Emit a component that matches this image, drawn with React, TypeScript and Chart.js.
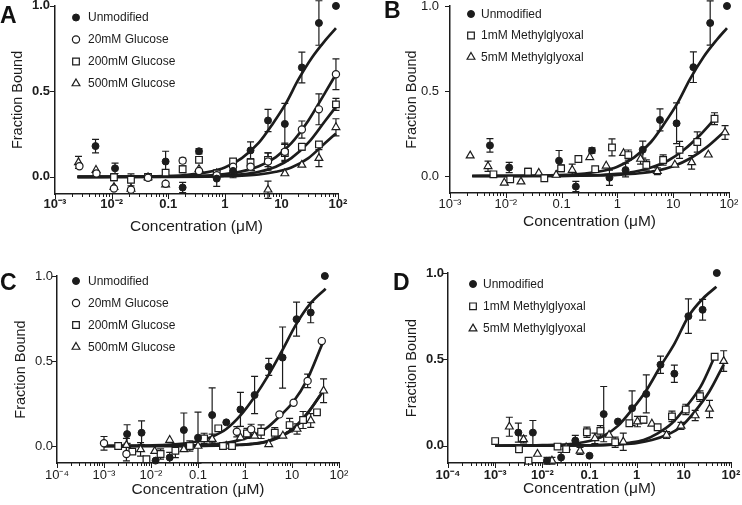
import React, { useEffect, useRef } from 'react';
import { Chart, registerables } from 'chart.js';
Chart.register(...registerables);

const FONT = 'Arial, "Liberation Sans", Helvetica, sans-serif';

// ---------- tick labels ----------
const xDecadesAB = [0.001, 0.01, 0.1, 1, 10, 100];
const xTickLabelsAB = ['10\u207B\u00B3', '10\u207B\u00B2', '0.1', '1', '10', '10\u00B2'];
const xDecadesCD = [0.0001, 0.001, 0.01, 0.1, 1, 10, 100];
const xTickLabelsCD = ['10\u207B\u2074', '10\u207B\u00B3', '10\u207B\u00B2', '0.1', '1', '10', '10\u00B2'];
const yTickValues = [0, 0.5, 1];
const yTickLabels = ['0.0', '0.5', '1.0'];

// ---------- legends ----------
const legendGlucose = ['Unmodified', '20mM Glucose', '200mM Glucose', '500mM Glucose'];
const legendMG = ['Unmodified', '1mM Methylglyoxal', '5mM Methylglyoxal'];

// ---------- Panel A / B : unmodified ----------
const abUnmodX = [0.0052, 0.0115, 0.09, 0.18, 0.35, 0.72, 1.4, 2.85, 5.8, 11.5, 23, 46, 92];
const abUnmodY = [0.18, 0.05, 0.09, -0.062, 0.15, -0.01, 0.035, 0.155, 0.33, 0.31, 0.64, 0.9, 1.0];
const abUnmodErr = [0.04, 0.03, 0.06, 0.03, 0.015, 0.045, 0.04, 0.05, 0.065, 0.12, 0.09, 0.13, 0];

// Panel A : glucose
const a20X = [0.0027, 0.0054, 0.011, 0.022, 0.044, 0.09, 0.18, 0.35, 0.72, 1.4, 2.85, 5.8, 11.5, 23, 46, 92];
const a20Y = [0.062, 0.02, -0.068, -0.075, -0.005, -0.04, 0.095, 0.035, 0.01, 0.06, 0.06, 0.09, 0.147, 0.277, 0.395, 0.6];
const a20Err = [0, 0, 0, 0, 0.01, 0, 0.015, 0, 0.02, 0.02, 0.02, 0.05, 0.05, 0.05, 0.09, 0.09];
const a200X = [0.011, 0.022, 0.044, 0.09, 0.18, 0.35, 0.72, 1.4, 2.85, 5.8, 11.5, 23, 46, 92];
const a200Y = [-0.002, -0.017, 0.0, 0.025, 0.045, 0.1, 0.02, 0.09, 0.085, 0.1, 0.14, 0.176, 0.19, 0.424];
const a200Err = [0.02, 0.035, 0.01, 0.01, 0.02, 0, 0.02, 0.01, 0.02, 0.04, 0.05, 0.02, 0.01, 0.035];
const a500X = [0.0026, 0.0053, 0.011, 0.022, 0.044, 0.09, 0.35, 0.72, 1.4, 2.85, 5.8, 11.5, 23, 46, 92];
const a500Y = [0.085, 0.04, -0.06, -0.07, -0.003, -0.045, 0.045, 0.02, 0.03, 0.05, -0.075, 0.02, 0.07, 0.11, 0.29];
const a500Err = [0.035, 0, 0, 0, 0, 0, 0, 0, 0, 0, 0.05, 0, 0, 0.05, 0.05];

// Panel B : methylglyoxal
const b1X = [0.006, 0.012, 0.025, 0.049, 0.098, 0.2, 0.4, 0.8, 1.57, 3.3, 6.6, 13, 27, 55];
const b1Y = [0.01, -0.02, 0.025, -0.013, 0.045, 0.1, 0.04, 0.168, 0.123, 0.065, 0.094, 0.154, 0.2, 0.337];
const b1Err = [0, 0, 0.02, 0, 0.02, 0, 0, 0.05, 0.03, 0.03, 0.03, 0.05, 0.06, 0.035];
const b5X = [0.0023, 0.0048, 0.0094, 0.0187, 0.039, 0.08, 0.155, 0.32, 0.63, 1.29, 2.6, 5.2, 10.7, 21.4, 42.6, 85];
const b5Y = [0.12, 0.057, -0.04, -0.033, 0.018, 0.006, 0.035, 0.11, 0.06, 0.134, 0.1, 0.028, 0.066, 0.08, 0.125, 0.256];
const b5Err = [0, 0.03, 0, 0, 0, 0, 0.035, 0, 0, 0, 0.03, 0.02, 0, 0.04, 0, 0.04];

// fitted curves A / B
const fitABUnmodX = [0.0025, 0.01, 0.05, 0.2, 0.5, 1, 2, 4, 7, 12, 20, 35, 60, 92];
const fitABUnmodY = [0, 0.001, 0.003, 0.011, 0.028, 0.055, 0.11, 0.2, 0.31, 0.43, 0.57, 0.7, 0.8, 0.87];
const fitAGluX = [0.0025, 0.1, 0.5, 1, 2, 4, 8, 15, 30, 60, 92];
const fitA20Y = [0, 0.002, 0.008, 0.016, 0.032, 0.062, 0.116, 0.197, 0.33, 0.496, 0.6];
const fitA200Y = [0, 0.001, 0.004, 0.008, 0.015, 0.03, 0.06, 0.11, 0.2, 0.33, 0.41];
const fitA500Y = [0, 0, 0.002, 0.004, 0.008, 0.014, 0.03, 0.055, 0.11, 0.2, 0.254];
const fitB1X = [0.0025, 0.1, 0.5, 1, 2, 4, 8, 15, 30, 55];
const fitB1Y = [0, 0.001, 0.006, 0.012, 0.025, 0.05, 0.09, 0.15, 0.24, 0.335];
const fitB5X = [0.0025, 0.1, 0.5, 1, 2.5, 5, 10, 20, 40, 85];
const fitB5Y = [0, 0.001, 0.004, 0.007, 0.016, 0.03, 0.057, 0.103, 0.17, 0.265];

// ---------- Panel C / D : unmodified ----------
const cdUnmodX = [0.0031, 0.0063, 0.0125, 0.025, 0.05, 0.1, 0.2, 0.4, 0.8, 1.6, 3.2, 6.3, 12.5, 25, 50];
const cUnmodY = [0.07, 0.078, -0.086, -0.068, 0.094, 0.049, 0.182, 0.139, 0.215, 0.3, 0.466, 0.52, 0.746, 0.785, 1.0];
const cUnmodErr = [0.055, 0.07, 0, 0.03, 0.1, 0.15, 0.16, 0, 0.1, 0.11, 0.05, 0.18, 0.1, 0.06, 0];
const dUnmodY = [0.076, 0.076, -0.087, -0.068, 0.03, -0.058, 0.183, 0.14, 0.217, 0.3, 0.469, 0.417, 0.75, 0.787, 1.0];
const dUnmodErr = [0.055, 0.07, 0.02, 0.03, 0.03, 0, 0.16, 0, 0.1, 0.11, 0.05, 0.05, 0.1, 0.06, 0];

// Panel C : glucose
const c20X = [0.001, 0.003, 0.67, 1.35, 5.4, 10.8, 21.5, 43];
const c20Y = [0.016, -0.047, 0.084, 0.098, 0.186, 0.254, 0.383, 0.617];
const c20Err = [0.04, 0.04, 0.03, 0.03, 0, 0, 0.04, 0];
const c200X = [0.002, 0.004, 0.008, 0.016, 0.033, 0.067, 0.135, 0.27, 0.34, 0.53, 1.1, 2.2, 4.3, 8.9, 17.2, 34];
const c200Y = [0.0, -0.033, -0.078, -0.047, -0.028, 0.0, 0.045, 0.104, 0.0, 0.0, 0.074, 0.084, 0.078, 0.123, 0.153, 0.198];
const c200Err = [0, 0, 0, 0.03, 0.04, 0.03, 0.03, 0, 0, 0, 0.03, 0.04, 0.03, 0.04, 0.05, 0];
const c500X = [0.003, 0.006, 0.012, 0.025, 0.05, 0.1, 0.2, 0.4, 0.8, 1.6, 3.2, 6.4, 12.8, 25, 47];
const c500Y = [0.005, -0.02, -0.03, 0.035, -0.02, 0.0, 0.04, 0.0, 0.05, 0.06, 0.01, 0.06, 0.1, 0.15, 0.325];
const c500Err = [0.04, 0.04, 0, 0, 0, 0, 0.03, 0, 0, 0, 0, 0, 0.03, 0.04, 0.07];

// Panel D : methylglyoxal
const d1X = [0.001, 0.0032, 0.0051, 0.021, 0.032, 0.088, 0.17, 0.35, 0.7, 1.4, 2.78, 5.6, 11, 22, 45];
const d1Y = [0.027, -0.02, -0.087, -0.005, -0.02, 0.078, 0.086, 0.02, 0.13, 0.15, 0.107, 0.17, 0.21, 0.287, 0.515];
const d1Err = [0, 0.02, 0, 0, 0, 0.03, 0.03, 0.03, 0, 0.02, 0, 0.03, 0.03, 0.03, 0];
const d5X = [0.002, 0.004, 0.0079, 0.016, 0.032, 0.063, 0.13, 0.26, 0.52, 1.04, 2.1, 4.3, 8.7, 17.4, 35, 70];
const d5Y = [0.11, 0.037, -0.048, -0.087, -0.01, -0.03, 0.043, 0.062, 0.023, 0.14, 0.127, 0.062, 0.115, 0.175, 0.213, 0.49];
const d5Err = [0.055, 0.02, 0, 0.02, 0, 0.02, 0.03, 0, 0.05, 0.03, 0, 0.02, 0.02, 0.03, 0.05, 0.06];

// fitted curves C / D
const fitCUnmodX = [0.001, 0.01, 0.05, 0.1, 0.2, 0.4, 0.8, 1.6, 3.2, 6, 12.5, 25, 52];
const fitCUnmodY = [0, 0.003, 0.014, 0.028, 0.055, 0.1, 0.18, 0.29, 0.42, 0.555, 0.72, 0.84, 0.925];
const fitC20X = [0.001, 0.05, 0.3, 0.66, 1.36, 2.7, 5.3, 10.7, 21, 44];
const fitC20Y = [0, 0.002, 0.014, 0.03, 0.058, 0.1, 0.172, 0.26, 0.39, 0.6];
const fitC200X = [0.001, 0.1, 0.7, 1.36, 2.7, 5.3, 10.7, 21, 40];
const fitC200Y = [0, 0.001, 0.007, 0.012, 0.025, 0.055, 0.104, 0.19, 0.3];
const fitC500X = [0.001, 0.1, 0.7, 1.36, 2.7, 5.3, 10.7, 21, 47];
const fitC500Y = [0, 0.001, 0.006, 0.011, 0.023, 0.05, 0.1, 0.19, 0.325];
const fitDUnmodX = [0.001, 0.01, 0.05, 0.1, 0.2, 0.4, 0.8, 1.6, 3.2, 6.3, 12.6, 25, 49];
const fitDUnmodY = [0, 0.003, 0.013, 0.027, 0.057, 0.115, 0.21, 0.32, 0.46, 0.59, 0.75, 0.85, 0.92];
const fitD1X = [0.001, 0.1, 0.35, 0.7, 1.4, 2.8, 5.6, 11.3, 23, 45];
const fitD1Y = [0, 0.002, 0.008, 0.017, 0.033, 0.072, 0.13, 0.227, 0.345, 0.515];
const fitD5X = [0.001, 0.1, 0.5, 1.04, 2.1, 4.3, 8.7, 17.4, 35, 70];
const fitD5Y = [0, 0.002, 0.009, 0.017, 0.033, 0.062, 0.11, 0.2, 0.315, 0.47];

// ---------- types & helpers ----------
type Mk = 'filled' | 'open' | 'square' | 'triangle';
interface Series { label: string; mk: Mk; x: number[]; y: number[]; err: number[] }
interface Fit { x: number[]; y: number[] }
interface PanelCfg {
  letter: string;
  left: number; top: number; w: number; h: number;
  area: { left: number; right: number; top: number; bottom: number };
  xmin: number; xmax: number;
  decades: number[]; decadeLabels: string[];
  bold: boolean;
  yLabelPad: number; yTitlePad: number;
  xLabelPad: number; xH: number;
  legend: { mx: number; tx: number; y0: number; dy: number };
  letterPos: { left: number; top: number };
  series: Series[];
  fits: Fit[];
}

const INK = '#1c1c1c';

function pointOpts(mk: Mk) {
  switch (mk) {
    case 'filled':
      return { pointStyle: 'circle', pointRadius: 3.5, pointBackgroundColor: INK, pointBorderColor: INK, pointBorderWidth: 1 };
    case 'open':
      return { pointStyle: 'circle', pointRadius: 3.6, pointBackgroundColor: '#fff', pointBorderColor: INK, pointBorderWidth: 1.2 };
    case 'square':
      return { pointStyle: 'rect', pointRadius: 4.7, pointBackgroundColor: '#fff', pointBorderColor: INK, pointBorderWidth: 1.2 };
    default:
      return { pointStyle: 'triangle', pointRadius: 4.5, pointBackgroundColor: '#fff', pointBorderColor: INK, pointBorderWidth: 1.2 };
  }
}

function drawMarker(ctx: CanvasRenderingContext2D, mk: Mk, x: number, y: number) {
  ctx.save();
  ctx.lineWidth = mk === 'filled' ? 1 : 1.2;
  ctx.strokeStyle = INK;
  ctx.fillStyle = mk === 'filled' ? INK : '#fff';
  ctx.beginPath();
  if (mk === 'filled' || mk === 'open') {
    ctx.arc(x, y, mk === 'filled' ? 3.5 : 3.6, 0, Math.PI * 2);
  } else if (mk === 'square') {
    const s = 4.7 * Math.SQRT1_2;
    ctx.rect(x - s, y - s, 2 * s, 2 * s);
  } else {
    const r = 4.5;
    let a = 0;
    ctx.moveTo(x + Math.sin(a) * r, y - Math.cos(a) * r);
    a += (2 * Math.PI) / 3;
    ctx.lineTo(x + Math.sin(a) * r, y - Math.cos(a) * r);
    a += (2 * Math.PI) / 3;
    ctx.lineTo(x + Math.sin(a) * r, y - Math.cos(a) * r);
    ctx.closePath();
  }
  ctx.fill();
  ctx.stroke();
  ctx.restore();
}

const errorBarPlugin = {
  id: 'errorBars',
  beforeDatasetsDraw(chart: any) {
    const { ctx } = chart;
    const ys = chart.scales.y;
    ctx.save();
    ctx.strokeStyle = INK;
    ctx.lineWidth = 1.2;
    chart.data.datasets.forEach((ds: any, i: number) => {
      if (!ds.errors) return;
      const meta = chart.getDatasetMeta(i);
      meta.data.forEach((pt: any, j: number) => {
        const e = ds.errors[j];
        if (!e) return;
        const v = ds.data[j].y;
        const yt = ys.getPixelForValue(v + e);
        const yb = ys.getPixelForValue(v - e);
        const x = pt.x;
        ctx.beginPath();
        ctx.moveTo(x, yt); ctx.lineTo(x, yb);
        ctx.moveTo(x - 3.5, yt); ctx.lineTo(x + 3.5, yt);
        ctx.moveTo(x - 3.5, yb); ctx.lineTo(x + 3.5, yb);
        ctx.stroke();
      });
    });
    ctx.restore();
  },
};

const tickPlugin = {
  id: 'axisTicks',
  afterDraw(chart: any) {
    const { ctx, chartArea } = chart;
    const xs = chart.scales.x;
    const ys = chart.scales.y;
    ctx.save();
    ctx.strokeStyle = INK;
    ctx.lineWidth = 1;
    const d0 = Math.round(Math.log10(xs.min));
    const d1 = Math.round(Math.log10(xs.max));
    ctx.beginPath();
    for (let d = d0; d <= d1; d++) {
      for (let k = 1; k <= 9; k++) {
        const v = k * Math.pow(10, d);
        if (v > xs.max * 1.0001) break;
        const px = Math.round(xs.getPixelForValue(v)) + 0.5;
        const len = k === 1 ? 5 : 3;
        ctx.moveTo(px, chartArea.bottom);
        ctx.lineTo(px, chartArea.bottom + len);
      }
    }
    yTickValues.forEach((v) => {
      const py = Math.round(ys.getPixelForValue(v)) + 0.5;
      ctx.moveTo(chartArea.left - 5, py);
      ctx.lineTo(chartArea.left, py);
    });
    ctx.stroke();
    ctx.restore();
  },
};

const legendPlugin = {
  id: 'insideLegend',
  afterDraw(chart: any, _args: any, opts: any) {
    const { ctx } = chart;
    const items = opts.items as { label: string; mk: Mk }[];
    ctx.save();
    ctx.font = `12px ${FONT}`;
    ctx.fillStyle = INK;
    ctx.textBaseline = 'middle';
    ctx.textAlign = 'left';
    items.forEach((it, i) => {
      const y = opts.y0 + i * opts.dy;
      drawMarker(ctx, it.mk, opts.mx, y);
      ctx.fillStyle = INK;
      ctx.fillText(it.label, opts.tx, y + 0.5);
    });
    ctx.restore();
  },
};

function buildConfig(p: PanelCfg): any {
  const datasets: any[] = [];
  p.series.forEach((s) => {
    datasets.push({
      type: 'scatter',
      label: s.label,
      data: s.x.map((x, i) => ({ x, y: s.y[i] })),
      errors: s.err,
      showLine: false,
      clip: false,
      ...pointOpts(s.mk),
    });
  });
  p.fits.forEach((f) => {
    datasets.push({
      type: 'line',
      data: f.x.map((x, i) => ({ x, y: f.y[i] })),
      borderColor: INK,
      borderWidth: 2.7,
      pointRadius: 0,
      fill: false,
      cubicInterpolationMode: 'monotone',
      clip: false,
    });
  });
  const yW = p.area.left;
  const tickFont = { family: FONT, size: 13, weight: p.bold ? 'bold' : 'normal' };
  return {
    type: 'scatter',
    data: { datasets },
    plugins: [errorBarPlugin, tickPlugin, legendPlugin],
    options: {
      responsive: false,
      maintainAspectRatio: false,
      animation: false,
      devicePixelRatio: 1,
      events: [],
      layout: {
        padding: {
          left: 0,
          top: p.area.top,
          right: p.w - p.area.right,
          bottom: p.h - p.area.bottom - p.xH,
        },
      },
      plugins: {
        legend: { display: false },
        tooltip: { enabled: false },
        insideLegend: {
          items: p.series.map((s) => ({ label: s.label, mk: s.mk })),
          mx: p.legend.mx, tx: p.legend.tx, y0: p.legend.y0, dy: p.legend.dy,
        },
      },
      scales: {
        x: {
          type: 'logarithmic',
          min: p.xmin,
          max: p.xmax,
          afterBuildTicks: (s: any) => { s.ticks = p.decades.map((v) => ({ value: v })); },
          afterFit: (s: any) => { s.height = p.xH; s.paddingLeft = 0; s.paddingRight = 0; },
          grid: { display: false, drawTicks: false },
          border: { display: true, color: INK, width: 1.5 },
          ticks: {
            autoSkip: false,
            maxRotation: 0,
            padding: p.xLabelPad,
            color: INK,
            font: tickFont,
            callback: (_v: any, i: number) => p.decadeLabels[i],
          },
          title: {
            display: true,
            text: 'Concentration (\u03BCM)',
            color: INK,
            font: { family: FONT, size: 15.5 },
            padding: { top: 0, bottom: 0 },
          },
        },
        y: {
          type: 'linear',
          min: -0.1,
          max: 1.0,
          afterBuildTicks: (s: any) => { s.ticks = yTickValues.map((v) => ({ value: v })); },
          afterFit: (s: any) => { s.width = yW; s.paddingTop = 0; s.paddingBottom = 0; },
          grid: { display: false, drawTicks: false },
          border: { display: true, color: INK, width: 1.5 },
          ticks: {
            padding: p.yLabelPad,
            color: INK,
            font: tickFont,
            callback: (_v: any, i: number) => yTickLabels[i],
          },
          title: {
            display: true,
            text: 'Fraction Bound',
            color: INK,
            font: { family: FONT, size: 14.5 },
            padding: { top: p.yTitlePad, bottom: 0 },
          },
        },
      },
    },
  };
}

const panels: PanelCfg[] = [
  {
    letter: 'A', left: 0, top: 0, w: 371, h: 250,
    area: { left: 55, right: 338, top: 5, bottom: 194 },
    xmin: 0.001, xmax: 100, decades: xDecadesAB, decadeLabels: xTickLabelsAB,
    bold: true, yLabelPad: 5, yTitlePad: 9, xLabelPad: 3, xH: 42,
    legend: { mx: 76, tx: 88, y0: 17.5, dy: 22 },
    letterPos: { left: 0, top: 4 },
    series: [
      { label: legendGlucose[0], mk: 'filled', x: abUnmodX, y: abUnmodY, err: abUnmodErr },
      { label: legendGlucose[1], mk: 'open', x: a20X, y: a20Y, err: a20Err },
      { label: legendGlucose[2], mk: 'square', x: a200X, y: a200Y, err: a200Err },
      { label: legendGlucose[3], mk: 'triangle', x: a500X, y: a500Y, err: a500Err },
    ],
    fits: [
      { x: fitABUnmodX, y: fitABUnmodY },
      { x: fitAGluX, y: fitA20Y },
      { x: fitAGluX, y: fitA200Y },
      { x: fitAGluX, y: fitA500Y },
    ],
  },
  {
    letter: 'B', left: 371, top: 0, w: 371, h: 250,
    area: { left: 79, right: 358, top: 6, bottom: 193 },
    xmin: 0.001, xmax: 100, decades: xDecadesAB, decadeLabels: xTickLabelsAB,
    bold: false, yLabelPad: 11, yTitlePad: 32, xLabelPad: 4, xH: 38,
    legend: { mx: 100, tx: 110, y0: 14, dy: 21.5 },
    letterPos: { left: 13, top: -1 },
    series: [
      { label: legendMG[0], mk: 'filled', x: abUnmodX, y: abUnmodY, err: abUnmodErr },
      { label: legendMG[1], mk: 'square', x: b1X, y: b1Y, err: b1Err },
      { label: legendMG[2], mk: 'triangle', x: b5X, y: b5Y, err: b5Err },
    ],
    fits: [
      { x: fitABUnmodX, y: fitABUnmodY },
      { x: fitB1X, y: fitB1Y },
      { x: fitB5X, y: fitB5Y },
    ],
  },
  {
    letter: 'C', left: 0, top: 250, w: 371, h: 255,
    area: { left: 57, right: 339, top: 26, bottom: 213 },
    xmin: 0.0001, xmax: 100, decades: xDecadesCD, decadeLabels: xTickLabelsCD,
    bold: false, yLabelPad: 4, yTitlePad: 12, xLabelPad: 5, xH: 36,
    legend: { mx: 76, tx: 88, y0: 31, dy: 22 },
    letterPos: { left: 0, top: 21 },
    series: [
      { label: legendGlucose[0], mk: 'filled', x: cdUnmodX, y: cUnmodY, err: cUnmodErr },
      { label: legendGlucose[1], mk: 'open', x: c20X, y: c20Y, err: c20Err },
      { label: legendGlucose[2], mk: 'square', x: c200X, y: c200Y, err: c200Err },
      { label: legendGlucose[3], mk: 'triangle', x: c500X, y: c500Y, err: c500Err },
    ],
    fits: [
      { x: fitCUnmodX, y: fitCUnmodY },
      { x: fitC20X, y: fitC20Y },
      { x: fitC200X, y: fitC200Y },
      { x: fitC500X, y: fitC500Y },
    ],
  },
  {
    letter: 'D', left: 371, top: 250, w: 371, h: 255,
    area: { left: 77, right: 360, top: 23, bottom: 213 },
    xmin: 0.0001, xmax: 100, decades: xDecadesCD, decadeLabels: xTickLabelsCD,
    bold: true, yLabelPad: 4, yTitlePad: 32, xLabelPad: 5, xH: 35,
    legend: { mx: 102, tx: 112, y0: 34, dy: 22.3 },
    letterPos: { left: 22, top: 21 },
    series: [
      { label: legendMG[0], mk: 'filled', x: cdUnmodX, y: dUnmodY, err: dUnmodErr },
      { label: legendMG[1], mk: 'square', x: d1X, y: d1Y, err: d1Err },
      { label: legendMG[2], mk: 'triangle', x: d5X, y: d5Y, err: d5Err },
    ],
    fits: [
      { x: fitDUnmodX, y: fitDUnmodY },
      { x: fitD1X, y: fitD1Y },
      { x: fitD5X, y: fitD5Y },
    ],
  },
];

function Panel({ cfg }: { cfg: PanelCfg }) {
  const ref = useRef<HTMLCanvasElement>(null);
  useEffect(() => {
    const chart = new Chart(ref.current as HTMLCanvasElement, buildConfig(cfg));
    return () => chart.destroy();
  }, [cfg]);
  return (
    <div style={{ position: 'absolute', left: cfg.left, top: cfg.top, width: cfg.w, height: cfg.h }}>
      <canvas ref={ref} width={cfg.w} height={cfg.h} style={{ position: 'absolute', left: 0, top: 0, width: cfg.w, height: cfg.h }} />
      <div
        style={{
          position: 'absolute',
          left: cfg.letterPos.left,
          top: cfg.letterPos.top,
          font: `bold 23px ${FONT}`,
          lineHeight: '23px',
          color: '#111',
        }}
      >
        {cfg.letter}
      </div>
    </div>
  );
}

export default function App() {
  return (
    <div
      style={{
        position: 'fixed',
        left: 0,
        top: 0,
        width: 742,
        height: 505,
        background: '#fff',
        overflow: 'hidden',
      }}
    >
      {panels.map((p) => (
        <Panel key={p.letter} cfg={p} />
      ))}
    </div>
  );
}
